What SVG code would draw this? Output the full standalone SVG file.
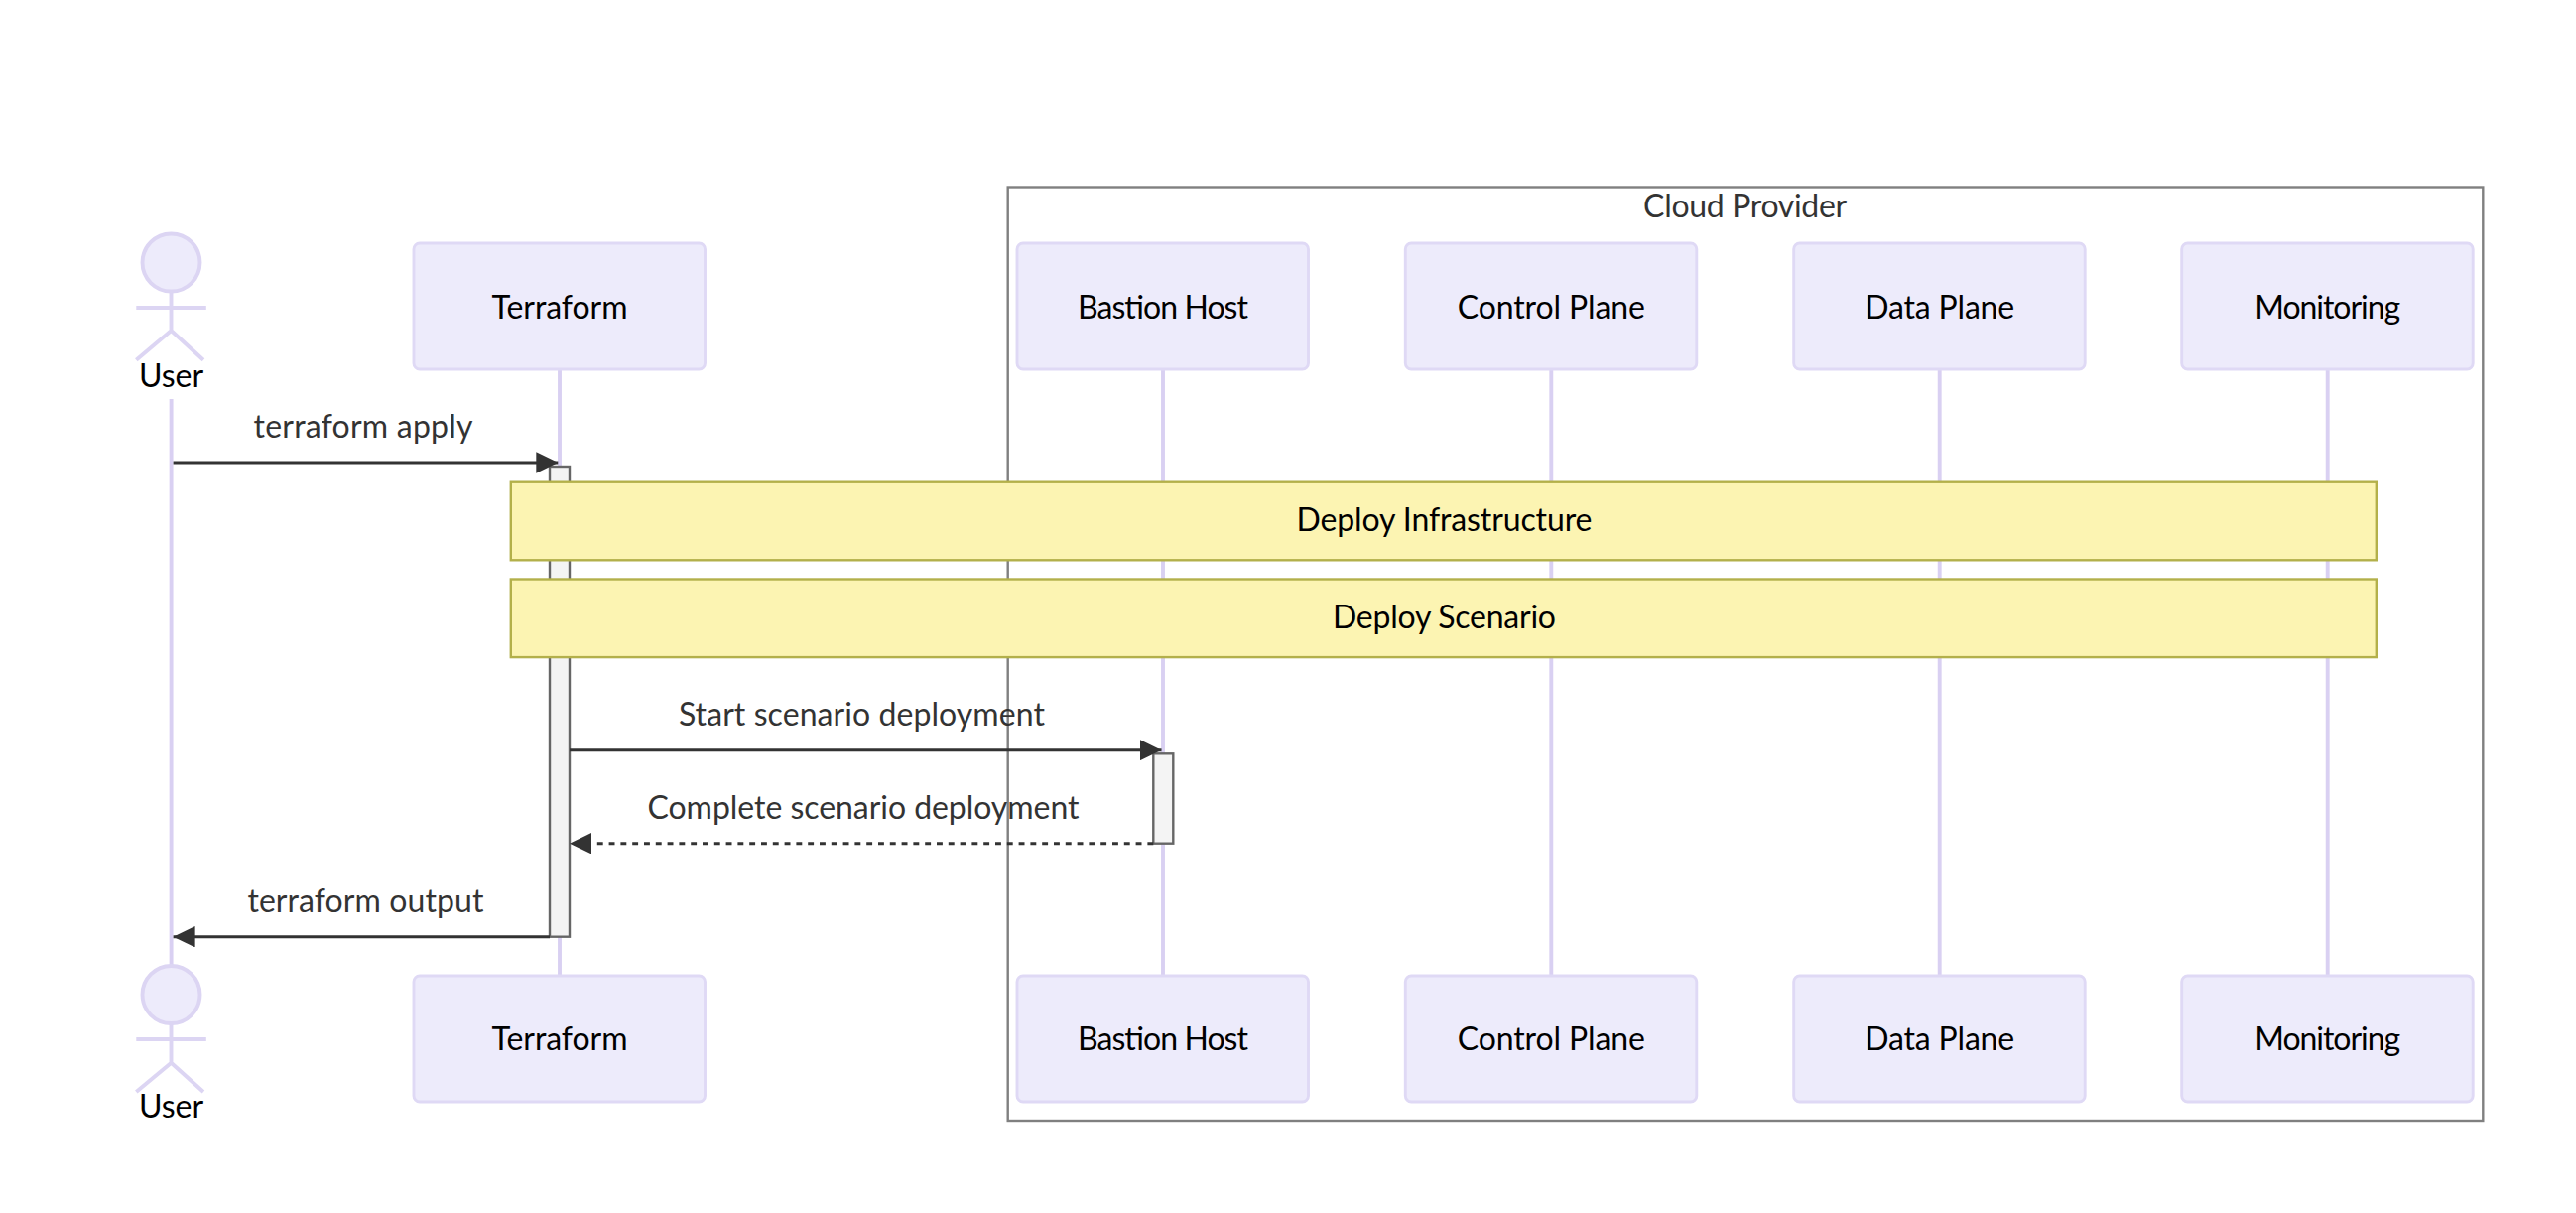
<svg xmlns="http://www.w3.org/2000/svg" width="2596" height="1222" viewBox="0 0 2596 1222">
<style>
text{font-family:"Lato","Liberation Sans",sans-serif;font-size:32px;text-anchor:middle}
.actor{fill:#edebfb;stroke:#dfd9f5;stroke-width:2.9}
.head{fill:#edebfb;stroke:#dcd5f3;stroke-width:3.9}
.stick{fill:none;stroke:#dcd5f3;stroke-width:3.9}
.life{stroke:#d9d0f2;stroke-width:3.9;fill:none}
.name{fill:#000}
.msg{fill:#333}
.note{fill:#fcf4b2;stroke:#b3b04a;stroke-width:2.4}
.act{fill:#f4f4f4;stroke:#666;stroke-width:2.4}
.edge{stroke:#333;stroke-width:2.9;fill:none}
.dash{stroke-dasharray:5.9 5.9}
</style>
<defs>
<marker id="head" markerUnits="userSpaceOnUse" viewBox="0 0 22 21.4" refX="22" refY="10.7" markerWidth="22" markerHeight="21.4" orient="auto"><path d="M0 0L22 10.7L0 21.4z" fill="#333"/></marker>
</defs>
<g id="frame-cloud-provider"><rect x="1015.7" y="188.5" width="1486.6" height="940.5" fill="none" stroke="#808080" stroke-width="2.4"/><text class="msg" x="1758.6" y="219.3" textLength="205">Cloud Provider</text></g>
<g id="lifelines">
<path class="life" d="M172.6 402V983M564 372V983M1172 372V983M1563.3 372V983M1954.7 372V983M2345.7 372V983"/>
</g>
<g id="activation-terraform"><rect class="act" x="554" y="470" width="20" height="473.7"/></g>
<g id="activation-bastion"><rect class="act" x="1162.3" y="759.3" width="20" height="90.4"/></g>
<g id="connectors">
<path class="edge" marker-end="url(#head)" d="M174.6 466H562.3"/>
<path class="edge" marker-end="url(#head)" d="M574 755.7H1170.5"/>
<path class="edge dash" marker-end="url(#head)" d="M1162.3 849.7H574"/>
<path class="edge" marker-end="url(#head)" d="M554 943.7H174.6"/>
<text class="msg" x="366" y="441.3" textLength="221">terraform apply</text>
<text class="msg" x="868.4" y="731.3" textLength="369">Start scenario deployment</text>
<text class="msg" x="870" y="825.3" textLength="435">Complete scenario deployment</text>
<text class="msg" x="368.4" y="919.3" textLength="238">terraform output</text>
</g>
<g id="actor-user-top"><circle class="head" cx="172.5" cy="264.5" r="29"/><path class="stick" d="M172.5 295V333M137.3 310H207.8M172.5 333L137.3 362.7M172.5 333L205 362.7"/><text class="name" x="172.6" y="390">User</text></g>
<g id="actor-user-bottom"><circle class="head" cx="172.5" cy="1002" r="29"/><path class="stick" d="M172.5 1032V1070.7M137.3 1047H207.8M172.5 1070.7L137.3 1100M172.5 1070.7L205 1100"/><text class="name" x="172.6" y="1126.3">User</text></g>
<g id="terraform-top"><rect class="actor" x="417" y="245" width="293.5" height="127" rx="6"/><text class="name" x="564" y="320.6" textLength="137">Terraform</text></g>
<g id="bastion-top"><rect class="actor" x="1025" y="245" width="293.5" height="127" rx="6"/><text class="name" x="1172" y="320.6" textLength="172">Bastion Host</text></g>
<g id="control-top"><rect class="actor" x="1416.3" y="245" width="293.5" height="127" rx="6"/><text class="name" x="1563.3" y="320.6" textLength="189">Control Plane</text></g>
<g id="data-top"><rect class="actor" x="1807.7" y="245" width="293.5" height="127" rx="6"/><text class="name" x="1954.7" y="320.6" textLength="151">Data Plane</text></g>
<g id="monitoring-top"><rect class="actor" x="2198.7" y="245" width="293.5" height="127" rx="6"/><text class="name" x="2345.7" y="320.6" textLength="147">Monitoring</text></g>
<g id="terraform-bottom"><rect class="actor" x="417" y="983" width="293.5" height="127" rx="6"/><text class="name" x="564" y="1058.3" textLength="137">Terraform</text></g>
<g id="bastion-bottom"><rect class="actor" x="1025" y="983" width="293.5" height="127" rx="6"/><text class="name" x="1172" y="1058.3" textLength="172">Bastion Host</text></g>
<g id="control-bottom"><rect class="actor" x="1416.3" y="983" width="293.5" height="127" rx="6"/><text class="name" x="1563.3" y="1058.3" textLength="189">Control Plane</text></g>
<g id="data-bottom"><rect class="actor" x="1807.7" y="983" width="293.5" height="127" rx="6"/><text class="name" x="1954.7" y="1058.3" textLength="151">Data Plane</text></g>
<g id="monitoring-bottom"><rect class="actor" x="2198.7" y="983" width="293.5" height="127" rx="6"/><text class="name" x="2345.7" y="1058.3" textLength="147">Monitoring</text></g>
<g id="note-infrastructure"><rect class="note" x="514.8" y="485.7" width="1880" height="78.6"/><text class="name" x="1455.5" y="535.3" textLength="298">Deploy Infrastructure</text></g>
<g id="note-scenario"><rect class="note" x="514.8" y="583.5" width="1880" height="78.6"/><text class="name" x="1455.5" y="633.3" textLength="225">Deploy Scenario</text></g>
</svg>
